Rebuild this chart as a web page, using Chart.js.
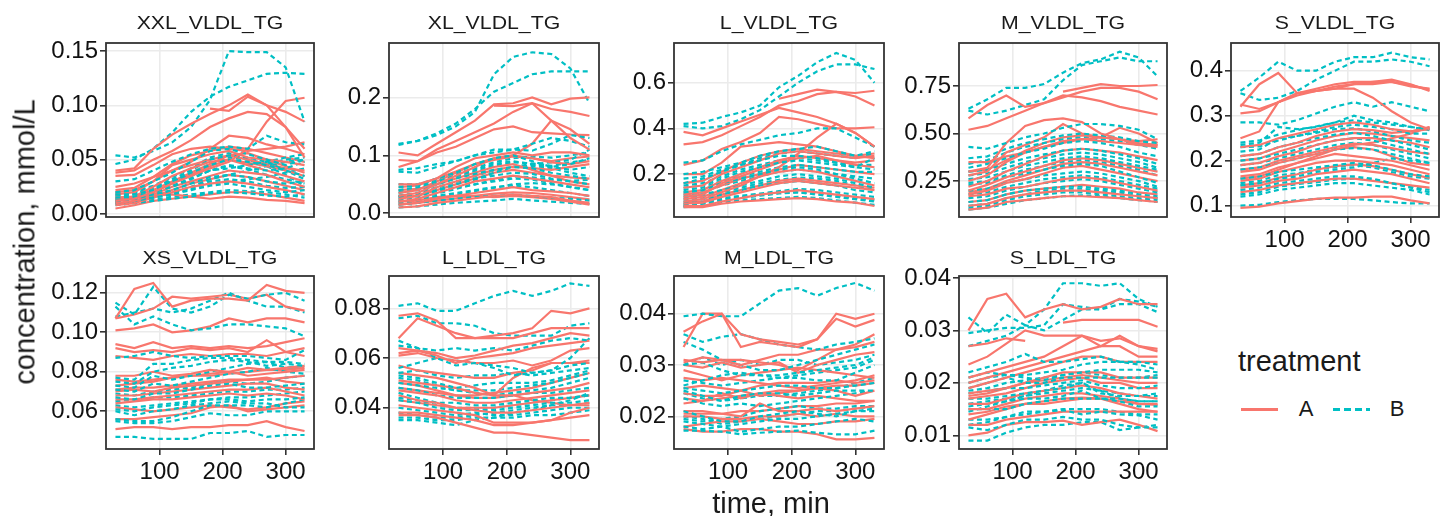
<!DOCTYPE html>
<html><head><meta charset="utf-8">
<script src="https://cdn.jsdelivr.net/npm/chart.js@4.4.0/dist/chart.umd.min.js"></script>
<style>
html,body{margin:0;padding:0;background:#fff;}
#wrap{position:relative;width:1449px;height:516px;overflow:hidden;font-family:"Liberation Sans",Arial,sans-serif;background:#fff;}
canvas{position:absolute;}
.t{position:absolute;white-space:nowrap;color:#1a1a1a;line-height:1;}
.c{transform:translate(-50%,-50%);}
</style></head><body><div id="wrap"></div>
<script>
const times=[30,60,90,120,150,180,210,240,270,300,330];
const panelNames=["XXL_VLDL_TG","XL_VLDL_TG","L_VLDL_TG","M_VLDL_TG","S_VLDL_TG","XS_VLDL_TG","L_LDL_TG","M_LDL_TG","S_LDL_TG"];
const xTickValues=[100,200,300];
const yLimits=[[-0.0028,0.1574],[-0.0064,0.2940],[0.012,0.774],[0.061,0.976],[0.0749,0.4616],[0.0409,0.1285],[0.0234,0.093],[0.01363,0.04735],[0.00739,0.04038]];
const yTickSteps=[0.05,0.1,0.2,0.25,0.1,0.02,0.02,0.01,0.01];
const yTickDecimals=[2,1,1,2,1,2,2,2,2];
const treatments=["A","B"];

const xxlA=[
[0.040,0.042,0.060,0.073,0.083,0.092,0.100,0.110,0.100,0.080,0.052],
[null,null,null,null,null,0.097,0.095,0.108,0.100,0.094,0.085],
[0.038,0.040,0.050,0.058,0.068,0.080,0.088,0.094,0.092,0.080,0.060],
[0.012,0.014,0.020,0.028,0.035,0.042,0.048,0.060,0.085,0.104,0.107],
[0.035,0.036,0.045,0.055,0.060,0.062,0.060,0.058,0.060,0.062,0.066],
[0.018,0.020,0.030,0.045,0.050,0.055,0.058,0.052,0.050,0.048,0.045],
[0.015,0.016,0.025,0.035,0.042,0.048,0.050,0.045,0.040,0.035,0.030],
[0.010,0.012,0.018,0.025,0.030,0.035,0.040,0.038,0.036,0.030,0.025],
[0.008,0.010,0.015,0.020,0.025,0.028,0.030,0.028,0.025,0.022,0.018],
[0.005,0.008,0.012,0.014,0.016,0.018,0.020,0.020,0.018,0.015,0.012],
[0.015,0.015,0.017,0.018,0.016,0.014,0.016,0.015,0.013,0.012,0.010],
[0.020,0.022,0.030,0.040,0.048,0.060,0.072,0.070,0.064,0.060,0.055],
[0.012,0.014,0.020,0.028,0.036,0.044,0.050,0.047,0.044,0.040,0.035],
[0.025,0.028,0.034,0.040,0.045,0.050,0.054,0.056,0.050,0.044,0.038],
[0.014,0.016,0.022,0.030,0.038,0.046,0.054,0.050,0.046,0.042,0.040],
[0.009,0.011,0.016,0.022,0.028,0.032,0.036,0.034,0.030,0.026,0.022],
[0.022,0.024,0.034,0.046,0.054,0.058,0.062,0.060,0.056,0.052,0.048]];
const xxlB=[
[0.054,0.052,0.058,0.066,0.080,0.105,0.150,0.149,0.149,0.135,0.085],
[0.046,0.050,0.060,0.075,0.094,0.108,0.117,0.123,0.129,0.130,0.129],
[0.030,0.032,0.040,0.048,0.055,0.060,0.062,0.060,0.072,0.066,0.064],
[0.020,0.022,0.030,0.038,0.048,0.058,0.060,0.055,0.050,0.045,0.050],
[0.018,0.018,0.022,0.030,0.038,0.045,0.050,0.048,0.045,0.040,0.035],
[0.015,0.016,0.020,0.025,0.032,0.040,0.045,0.042,0.040,0.042,0.048],
[0.012,0.014,0.018,0.022,0.028,0.034,0.036,0.034,0.030,0.028,0.030],
[0.010,0.012,0.015,0.018,0.022,0.026,0.028,0.025,0.022,0.020,0.022],
[0.008,0.010,0.012,0.014,0.016,0.019,0.020,0.019,0.017,0.016,0.018],
[0.018,0.020,0.025,0.030,0.035,0.040,0.042,0.045,0.048,0.052,0.055],
[0.014,0.015,0.018,0.020,0.024,0.030,0.032,0.030,0.026,0.024,0.025],
[0.010,0.011,0.013,0.016,0.018,0.020,0.022,0.021,0.020,0.018,0.015],
[0.016,0.018,0.024,0.032,0.040,0.050,0.054,0.052,0.048,0.040,0.032],
[0.012,0.013,0.016,0.020,0.025,0.032,0.036,0.040,0.044,0.048,0.050],
[0.013,0.015,0.020,0.026,0.033,0.040,0.044,0.041,0.036,0.032,0.028],
[0.017,0.019,0.024,0.030,0.038,0.046,0.052,0.050,0.046,0.050,0.052],
[0.011,0.012,0.015,0.019,0.023,0.028,0.030,0.032,0.034,0.038,0.042],
[0.020,0.021,0.026,0.034,0.042,0.052,0.056,0.050,0.044,0.036,0.026]];

const xlA=[
[0.105,0.100,0.120,0.140,0.160,0.188,0.190,0.200,0.188,0.198,0.200],
[0.092,0.090,0.110,0.125,0.140,0.155,0.175,0.190,0.160,0.130,0.110],
[null,null,null,null,null,0.186,0.185,0.190,0.180,0.175,0.168],
[0.080,0.090,0.105,0.115,0.130,0.145,0.150,0.140,0.138,0.136,0.135],
[0.050,0.050,0.060,0.080,0.095,0.100,0.105,0.100,0.105,0.105,0.100],
[0.030,0.035,0.050,0.065,0.080,0.095,0.100,0.120,0.160,0.145,0.120],
[0.035,0.040,0.055,0.070,0.085,0.092,0.098,0.095,0.088,0.085,0.090],
[0.025,0.030,0.045,0.055,0.065,0.075,0.080,0.078,0.075,0.080,0.085],
[0.020,0.025,0.035,0.045,0.055,0.060,0.065,0.060,0.055,0.050,0.045],
[0.015,0.018,0.025,0.030,0.035,0.040,0.045,0.040,0.038,0.035,0.030],
[0.010,0.012,0.018,0.022,0.026,0.030,0.032,0.030,0.028,0.022,0.018],
[0.020,0.022,0.028,0.030,0.030,0.028,0.030,0.028,0.025,0.020,0.015],
[0.040,0.042,0.050,0.060,0.070,0.080,0.085,0.075,0.065,0.055,0.050],
[0.028,0.030,0.040,0.050,0.060,0.070,0.075,0.070,0.065,0.062,0.060],
[0.015,0.018,0.022,0.026,0.030,0.034,0.036,0.035,0.032,0.028,0.024],
[0.045,0.048,0.060,0.072,0.085,0.095,0.100,0.095,0.090,0.095,0.098]];
const xlB=[
[0.120,0.125,0.135,0.150,0.175,0.240,0.270,0.278,0.275,0.250,0.190],
[0.118,0.125,0.138,0.155,0.180,0.210,0.225,0.240,0.245,0.245,0.245],
[0.075,0.078,0.085,0.090,0.100,0.110,0.110,0.108,0.120,0.135,0.130],
[0.072,0.070,0.080,0.090,0.100,0.105,0.110,0.120,0.130,0.125,0.115],
[0.050,0.050,0.060,0.070,0.085,0.095,0.100,0.090,0.080,0.085,0.095],
[0.040,0.045,0.055,0.065,0.075,0.085,0.090,0.085,0.080,0.075,0.080],
[0.035,0.040,0.050,0.060,0.068,0.075,0.080,0.078,0.070,0.065,0.060],
[0.030,0.035,0.045,0.055,0.060,0.065,0.070,0.068,0.060,0.055,0.050],
[0.025,0.030,0.038,0.045,0.050,0.055,0.060,0.058,0.052,0.045,0.040],
[0.020,0.025,0.030,0.035,0.040,0.045,0.048,0.045,0.040,0.035,0.030],
[0.015,0.018,0.022,0.025,0.028,0.030,0.032,0.030,0.027,0.025,0.022],
[0.010,0.012,0.015,0.018,0.020,0.022,0.025,0.022,0.020,0.018,0.016],
[0.028,0.030,0.040,0.050,0.058,0.070,0.080,0.085,0.088,0.092,0.110],
[0.045,0.048,0.058,0.068,0.078,0.088,0.095,0.098,0.096,0.100,0.105],
[0.030,0.034,0.044,0.054,0.064,0.074,0.080,0.082,0.078,0.070,0.064],
[0.022,0.026,0.034,0.042,0.050,0.058,0.064,0.062,0.058,0.056,0.058],
[0.038,0.042,0.052,0.062,0.072,0.082,0.088,0.086,0.082,0.088,0.092],
[0.018,0.020,0.026,0.032,0.038,0.044,0.050,0.052,0.050,0.046,0.040]];

const lA=[
[0.385,0.370,0.400,0.430,0.460,0.490,0.470,0.450,0.420,0.380,0.320],
[0.330,0.340,0.370,0.410,0.450,0.500,0.520,0.550,0.560,0.555,0.565],
[null,null,null,null,null,0.530,0.550,0.570,0.560,0.540,0.500],
[0.240,0.260,0.310,0.340,0.380,0.450,0.440,0.420,0.400,0.400,0.405],
[0.200,0.200,0.250,0.320,0.330,0.340,0.330,0.320,0.300,0.280,0.270],
[0.140,0.150,0.200,0.230,0.260,0.290,0.300,0.290,0.280,0.270,0.280],
[0.100,0.110,0.160,0.190,0.220,0.250,0.270,0.280,0.260,0.240,0.230],
[0.080,0.090,0.120,0.150,0.190,0.230,0.290,0.360,0.420,0.380,0.320],
[0.070,0.075,0.100,0.120,0.140,0.160,0.170,0.160,0.150,0.140,0.130],
[0.060,0.060,0.080,0.095,0.110,0.120,0.130,0.120,0.110,0.100,0.090],
[0.055,0.055,0.070,0.080,0.085,0.090,0.095,0.090,0.080,0.075,0.060],
[0.120,0.130,0.170,0.200,0.230,0.260,0.280,0.270,0.260,0.250,0.260],
[0.090,0.100,0.130,0.160,0.190,0.210,0.220,0.210,0.190,0.170,0.150],
[0.110,0.120,0.150,0.180,0.200,0.220,0.240,0.230,0.220,0.210,0.200],
[0.075,0.080,0.110,0.130,0.150,0.170,0.180,0.170,0.160,0.150,0.140],
[0.160,0.170,0.210,0.250,0.280,0.300,0.310,0.300,0.290,0.280,0.290]];
const lB=[
[0.420,0.425,0.450,0.470,0.500,0.580,0.630,0.690,0.730,0.700,0.600],
[0.410,0.400,0.410,0.440,0.480,0.540,0.600,0.650,0.680,0.680,0.660],
[0.250,0.260,0.300,0.330,0.350,0.370,0.380,0.400,0.400,0.360,0.320],
[0.200,0.210,0.230,0.250,0.280,0.300,0.310,0.320,0.300,0.280,0.300],
[0.160,0.180,0.210,0.240,0.260,0.280,0.280,0.270,0.250,0.230,0.220],
[0.140,0.150,0.180,0.210,0.230,0.250,0.260,0.250,0.240,0.230,0.270],
[0.120,0.130,0.160,0.180,0.200,0.220,0.230,0.220,0.200,0.180,0.160],
[0.100,0.110,0.130,0.150,0.170,0.190,0.200,0.190,0.180,0.160,0.140],
[0.080,0.090,0.110,0.130,0.150,0.160,0.170,0.160,0.150,0.130,0.120],
[0.060,0.070,0.090,0.100,0.110,0.120,0.120,0.110,0.100,0.090,0.080],
[0.055,0.060,0.075,0.085,0.090,0.095,0.100,0.095,0.085,0.075,0.065],
[0.180,0.190,0.220,0.240,0.270,0.290,0.300,0.290,0.280,0.270,0.290],
[0.130,0.140,0.170,0.190,0.210,0.230,0.240,0.230,0.220,0.210,0.210],
[0.070,0.075,0.095,0.105,0.115,0.125,0.135,0.130,0.120,0.110,0.100],
[0.150,0.160,0.190,0.220,0.240,0.260,0.270,0.260,0.250,0.240,0.240],
[0.110,0.120,0.150,0.170,0.190,0.210,0.220,0.210,0.200,0.190,0.180],
[0.090,0.100,0.120,0.140,0.160,0.175,0.185,0.180,0.170,0.150,0.130],
[0.065,0.070,0.085,0.095,0.105,0.115,0.120,0.115,0.105,0.095,0.085]];

const mA=[
[0.580,0.650,0.700,0.640,0.660,0.690,0.720,0.740,0.740,0.720,0.680],
[0.520,0.540,0.580,0.620,0.660,0.700,0.690,0.670,0.640,0.620,0.600],
[null,null,null,null,null,0.720,0.740,0.760,0.750,0.750,0.755],
[0.300,0.320,0.450,0.540,0.570,0.580,0.560,0.500,0.470,0.440,0.430],
[0.280,0.300,0.400,0.440,0.480,0.550,0.500,0.480,0.530,0.500,0.450],
[0.250,0.280,0.350,0.400,0.430,0.460,0.470,0.460,0.450,0.440,0.440],
[0.220,0.250,0.300,0.340,0.380,0.410,0.420,0.410,0.400,0.380,0.360],
[0.200,0.230,0.270,0.300,0.330,0.360,0.370,0.360,0.340,0.320,0.300],
[0.180,0.200,0.240,0.260,0.290,0.320,0.330,0.310,0.290,0.270,0.250],
[0.170,0.180,0.210,0.220,0.240,0.260,0.270,0.260,0.240,0.220,0.200],
[0.120,0.130,0.160,0.180,0.190,0.200,0.200,0.190,0.180,0.170,0.160],
[0.100,0.110,0.140,0.150,0.160,0.170,0.170,0.165,0.160,0.150,0.140],
[0.350,0.350,0.380,0.400,0.430,0.450,0.470,0.480,0.470,0.460,0.470],
[0.190,0.210,0.250,0.280,0.310,0.340,0.350,0.340,0.320,0.300,0.280],
[0.140,0.150,0.180,0.200,0.210,0.220,0.230,0.220,0.210,0.190,0.180],
[0.300,0.310,0.360,0.410,0.450,0.480,0.490,0.480,0.470,0.450,0.440]];
const mB=[
[0.630,0.680,0.740,0.740,0.760,0.820,0.870,0.890,0.930,0.900,0.800],
[0.620,0.600,0.620,0.650,0.680,0.780,0.860,0.880,0.900,0.880,0.880],
[0.430,0.420,0.450,0.480,0.500,0.530,0.550,0.550,0.540,0.520,0.470],
[0.370,0.380,0.420,0.450,0.470,0.490,0.500,0.490,0.480,0.460,0.450],
[0.320,0.340,0.370,0.400,0.420,0.450,0.460,0.450,0.430,0.400,0.380],
[0.300,0.310,0.340,0.370,0.390,0.410,0.420,0.410,0.390,0.370,0.340],
[0.260,0.270,0.300,0.330,0.350,0.370,0.380,0.370,0.350,0.330,0.310],
[0.230,0.240,0.270,0.290,0.310,0.330,0.340,0.330,0.300,0.270,0.240],
[0.200,0.210,0.240,0.260,0.280,0.290,0.300,0.290,0.270,0.250,0.220],
[0.160,0.170,0.200,0.220,0.240,0.250,0.260,0.250,0.230,0.210,0.190],
[0.140,0.150,0.180,0.200,0.210,0.220,0.220,0.210,0.200,0.180,0.170],
[0.110,0.120,0.150,0.170,0.180,0.190,0.190,0.180,0.170,0.160,0.150],
[0.100,0.110,0.130,0.150,0.160,0.170,0.175,0.170,0.160,0.150,0.140],
[0.340,0.360,0.400,0.430,0.450,0.470,0.480,0.470,0.460,0.440,0.420],
[0.280,0.290,0.320,0.350,0.370,0.390,0.400,0.390,0.370,0.350,0.320],
[0.180,0.190,0.220,0.240,0.260,0.270,0.280,0.270,0.250,0.230,0.210],
[0.120,0.130,0.160,0.180,0.200,0.210,0.210,0.200,0.190,0.170,0.160],
[0.240,0.250,0.280,0.310,0.330,0.350,0.360,0.350,0.330,0.310,0.280]];

const sA=[
[0.320,0.370,0.395,0.350,0.355,0.360,0.360,0.340,0.310,0.285,0.270],
[0.305,0.310,0.330,0.350,0.360,0.370,0.375,0.375,0.380,0.370,0.355],
[0.325,0.315,0.330,0.345,0.355,0.360,0.370,0.370,0.375,0.365,0.360],
[0.250,0.265,0.330,0.350,0.355,0.365,0.370,0.375,0.375,0.368,0.358],
[0.230,0.235,0.250,0.260,0.270,0.280,0.285,0.280,0.270,0.265,0.275],
[0.210,0.215,0.230,0.240,0.255,0.265,0.270,0.268,0.262,0.265,0.270],
[0.190,0.195,0.210,0.220,0.235,0.245,0.250,0.250,0.245,0.240,0.230],
[0.175,0.180,0.195,0.205,0.215,0.225,0.235,0.240,0.250,0.260,0.275],
[0.165,0.170,0.185,0.195,0.205,0.215,0.210,0.205,0.200,0.190,0.180],
[0.155,0.160,0.175,0.185,0.195,0.200,0.200,0.195,0.190,0.180,0.170],
[0.140,0.145,0.155,0.160,0.170,0.175,0.180,0.175,0.170,0.160,0.150],
[0.130,0.135,0.145,0.150,0.155,0.160,0.160,0.155,0.150,0.145,0.140],
[0.095,0.098,0.105,0.110,0.115,0.118,0.118,0.120,0.120,0.112,0.105],
[0.160,0.165,0.180,0.195,0.210,0.225,0.230,0.225,0.210,0.195,0.190],
[0.180,0.185,0.200,0.210,0.220,0.230,0.238,0.235,0.228,0.220,0.215],
[0.145,0.150,0.162,0.170,0.180,0.188,0.192,0.188,0.180,0.170,0.162],
[0.200,0.205,0.220,0.232,0.245,0.255,0.262,0.260,0.255,0.250,0.245]];
const sB=[
[0.355,0.385,0.420,0.400,0.400,0.420,0.430,0.430,0.440,0.430,0.425],
[0.350,0.335,0.340,0.355,0.380,0.400,0.420,0.420,0.425,0.420,0.410],
[0.285,0.285,0.280,0.290,0.305,0.320,0.330,0.320,0.330,0.320,0.310],
[0.235,0.240,0.275,0.270,0.275,0.285,0.300,0.290,0.285,0.275,0.270],
[0.220,0.225,0.250,0.255,0.265,0.275,0.280,0.275,0.270,0.260,0.260],
[0.210,0.215,0.230,0.240,0.250,0.258,0.262,0.255,0.245,0.235,0.225],
[0.200,0.205,0.215,0.225,0.235,0.245,0.250,0.245,0.235,0.225,0.215],
[0.180,0.185,0.195,0.205,0.215,0.225,0.228,0.225,0.215,0.205,0.195],
[0.160,0.165,0.175,0.180,0.185,0.190,0.195,0.190,0.180,0.170,0.165],
[0.145,0.150,0.160,0.165,0.175,0.180,0.185,0.195,0.205,0.200,0.195],
[0.135,0.140,0.150,0.155,0.160,0.165,0.165,0.160,0.150,0.140,0.130],
[0.120,0.125,0.135,0.140,0.145,0.150,0.150,0.145,0.140,0.135,0.125],
[0.100,0.102,0.108,0.112,0.115,0.115,0.115,0.112,0.108,0.105,0.105],
[0.230,0.232,0.245,0.255,0.262,0.270,0.272,0.265,0.255,0.245,0.240],
[0.190,0.195,0.205,0.215,0.225,0.235,0.240,0.235,0.225,0.215,0.205],
[0.150,0.155,0.168,0.172,0.180,0.185,0.190,0.185,0.175,0.165,0.160],
[0.240,0.245,0.258,0.268,0.276,0.285,0.290,0.285,0.280,0.275,0.268],
[0.125,0.130,0.142,0.148,0.152,0.158,0.160,0.158,0.150,0.142,0.135]];

const xsA=[
[0.107,0.122,0.125,0.113,0.116,0.117,0.117,0.116,0.124,0.121,0.120],
[0.107,0.109,0.112,0.118,0.117,0.118,0.119,0.117,0.119,0.113,0.111],
[0.101,0.102,0.104,0.100,0.101,0.103,0.107,0.105,0.107,0.107,0.105],
[0.094,0.092,0.095,0.092,0.093,0.092,0.093,0.092,0.093,0.095,0.097],
[0.092,0.090,0.091,0.090,0.092,0.091,0.092,0.090,0.096,0.090,0.088],
[0.088,0.087,0.086,0.088,0.089,0.088,0.089,0.089,0.088,0.090,0.092],
[0.078,0.078,0.080,0.078,0.079,0.081,0.080,0.082,0.081,0.082,0.083],
[0.073,0.074,0.075,0.077,0.078,0.079,0.080,0.078,0.079,0.080,0.081],
[0.070,0.071,0.070,0.072,0.073,0.074,0.075,0.076,0.076,0.077,0.078],
[0.068,0.068,0.069,0.070,0.071,0.072,0.073,0.074,0.074,0.072,0.071],
[0.066,0.066,0.067,0.068,0.069,0.070,0.071,0.071,0.072,0.070,0.068],
[0.064,0.065,0.066,0.066,0.067,0.068,0.069,0.068,0.069,0.068,0.066],
[0.062,0.061,0.060,0.061,0.062,0.063,0.062,0.061,0.062,0.064,0.065],
[0.056,0.056,0.057,0.058,0.059,0.062,0.063,0.060,0.061,0.062,0.063],
[0.051,0.052,0.052,0.051,0.052,0.052,0.053,0.053,0.055,0.052,0.050],
[0.076,0.075,0.076,0.077,0.078,0.078,0.079,0.080,0.081,0.081,0.082],
[0.071,0.072,0.072,0.073,0.074,0.075,0.076,0.076,0.077,0.075,0.074]];
const xsB=[
[0.115,0.109,0.123,0.112,0.110,0.113,0.119,0.117,0.119,0.120,0.116],
[0.113,0.104,0.108,0.104,0.101,0.102,0.104,0.104,0.103,0.102,0.098],
[0.108,0.110,0.112,0.110,0.112,0.116,0.120,0.116,0.113,0.113,0.110],
[0.087,0.088,0.090,0.088,0.087,0.088,0.088,0.088,0.087,0.086,0.091],
[0.077,0.076,0.084,0.084,0.086,0.087,0.087,0.086,0.085,0.085,0.084],
[0.075,0.074,0.080,0.082,0.083,0.085,0.086,0.085,0.083,0.084,0.083],
[0.073,0.072,0.078,0.076,0.078,0.080,0.082,0.084,0.085,0.082,0.083],
[0.071,0.070,0.074,0.073,0.075,0.077,0.079,0.080,0.082,0.080,0.079],
[0.067,0.066,0.069,0.069,0.071,0.073,0.074,0.072,0.072,0.073,0.074],
[0.061,0.060,0.062,0.063,0.064,0.066,0.066,0.065,0.066,0.066,0.067],
[0.060,0.058,0.060,0.061,0.063,0.064,0.065,0.064,0.064,0.062,0.062],
[0.056,0.055,0.055,0.057,0.060,0.063,0.063,0.063,0.062,0.064,0.066],
[0.055,0.054,0.054,0.055,0.057,0.059,0.058,0.058,0.060,0.060,0.060],
[0.047,0.047,0.046,0.046,0.046,0.049,0.049,0.050,0.047,0.048,0.048],
[0.065,0.066,0.067,0.067,0.068,0.069,0.070,0.070,0.071,0.071,0.072],
[0.069,0.068,0.070,0.071,0.072,0.074,0.075,0.074,0.075,0.077,0.078],
[0.063,0.062,0.063,0.064,0.065,0.066,0.067,0.067,0.068,0.069,0.070]];

const lldlA=[
[0.077,0.078,0.075,0.068,0.068,0.069,0.070,0.072,0.079,0.078,0.080],
[0.068,0.076,0.073,0.070,0.068,0.068,0.068,0.070,0.072,0.072,0.072],
[0.062,0.063,0.062,0.060,0.061,0.063,0.065,0.066,0.068,0.070,0.069],
[0.064,0.063,0.061,0.058,0.060,0.061,0.062,0.064,0.065,0.066,0.067],
[0.061,0.062,0.060,0.059,0.058,0.058,0.059,0.057,0.059,0.063,0.064],
[0.057,0.055,0.054,0.053,0.052,0.052,0.054,0.055,0.058,0.058,0.059],
[0.054,0.053,0.052,0.050,0.048,0.045,0.052,0.056,0.058,0.058,0.058],
[0.051,0.050,0.049,0.048,0.046,0.045,0.045,0.046,0.047,0.048,0.050],
[0.047,0.046,0.045,0.043,0.042,0.042,0.043,0.044,0.045,0.046,0.047],
[0.045,0.043,0.042,0.040,0.039,0.038,0.038,0.039,0.040,0.041,0.042],
[0.041,0.040,0.039,0.038,0.037,0.034,0.034,0.034,0.035,0.036,0.037],
[0.038,0.038,0.037,0.036,0.035,0.033,0.033,0.034,0.035,0.038,0.040],
[0.037,0.037,0.036,0.034,0.032,0.030,0.030,0.029,0.028,0.027,0.027],
[0.050,0.049,0.047,0.045,0.044,0.044,0.045,0.043,0.042,0.041,0.041],
[0.043,0.042,0.041,0.040,0.040,0.040,0.041,0.042,0.043,0.044,0.045],
[0.048,0.047,0.046,0.045,0.045,0.046,0.047,0.048,0.050,0.052,0.054]];
const lldlB=[
[0.081,0.082,0.079,0.079,0.082,0.085,0.087,0.085,0.087,0.090,0.089],
[0.076,0.077,0.074,0.074,0.073,0.070,0.069,0.069,0.069,0.073,0.074],
[0.067,0.064,0.063,0.064,0.063,0.064,0.063,0.065,0.067,0.068,0.067],
[0.065,0.064,0.060,0.057,0.058,0.057,0.056,0.054,0.055,0.060,0.068],
[0.056,0.058,0.060,0.059,0.058,0.056,0.053,0.054,0.055,0.057,0.058],
[0.054,0.055,0.053,0.052,0.053,0.053,0.054,0.053,0.054,0.055,0.056],
[0.053,0.052,0.050,0.048,0.049,0.050,0.050,0.050,0.051,0.053,0.055],
[0.050,0.049,0.048,0.047,0.046,0.045,0.046,0.047,0.048,0.050,0.052],
[0.048,0.047,0.045,0.044,0.044,0.044,0.045,0.046,0.046,0.047,0.048],
[0.046,0.044,0.042,0.042,0.041,0.041,0.042,0.043,0.044,0.044,0.045],
[0.043,0.042,0.040,0.039,0.039,0.039,0.040,0.041,0.042,0.042,0.043],
[0.040,0.039,0.038,0.037,0.038,0.037,0.037,0.038,0.039,0.040,0.040],
[0.036,0.036,0.035,0.035,0.036,0.036,0.036,0.037,0.037,0.038,0.039],
[0.035,0.035,0.034,0.033,0.035,0.036,0.038,0.039,0.041,0.043,0.046],
[0.052,0.051,0.049,0.047,0.047,0.047,0.048,0.049,0.050,0.052,0.054],
[0.044,0.043,0.041,0.040,0.040,0.040,0.041,0.042,0.043,0.044,0.045],
[0.038,0.037,0.036,0.036,0.037,0.038,0.039,0.040,0.041,0.041,0.042]];

const mldlA=[
[0.0365,0.0385,0.0400,0.0360,0.0350,0.0345,0.0340,0.0350,0.0400,0.0390,0.0400],
[0.0335,0.0400,0.0400,0.0335,0.0345,0.0340,0.0335,0.0350,0.0390,0.0375,0.0388],
[0.0310,0.0305,0.0310,0.0300,0.0310,0.0320,0.0320,0.0330,0.0330,0.0340,0.0360],
[0.0305,0.0315,0.0310,0.0310,0.0305,0.0300,0.0290,0.0310,0.0330,0.0335,0.0345],
[0.0300,0.0295,0.0305,0.0295,0.0300,0.0305,0.0285,0.0300,0.0310,0.0320,0.0325],
[0.0290,0.0280,0.0270,0.0280,0.0285,0.0290,0.0295,0.0290,0.0285,0.0280,0.0275],
[0.0255,0.0260,0.0255,0.0250,0.0260,0.0265,0.0265,0.0265,0.0270,0.0265,0.0270],
[0.0245,0.0240,0.0240,0.0250,0.0240,0.0245,0.0250,0.0255,0.0250,0.0240,0.0250],
[0.0225,0.0230,0.0245,0.0235,0.0245,0.0240,0.0235,0.0240,0.0235,0.0230,0.0230],
[0.0205,0.0205,0.0205,0.0200,0.0225,0.0210,0.0210,0.0215,0.0210,0.0215,0.0220],
[0.0200,0.0200,0.0195,0.0195,0.0200,0.0200,0.0205,0.0200,0.0205,0.0200,0.0200],
[0.0180,0.0185,0.0190,0.0190,0.0195,0.0190,0.0185,0.0185,0.0190,0.0190,0.0195],
[0.0175,0.0170,0.0170,0.0175,0.0175,0.0170,0.0170,0.0165,0.0155,0.0155,0.0158],
[0.0275,0.0270,0.0275,0.0270,0.0265,0.0260,0.0255,0.0260,0.0265,0.0270,0.0280],
[0.0235,0.0230,0.0235,0.0240,0.0245,0.0250,0.0250,0.0255,0.0260,0.0260,0.0265],
[0.0210,0.0210,0.0205,0.0210,0.0210,0.0215,0.0220,0.0220,0.0225,0.0225,0.0230]];
const mldlB=[
[0.0395,0.0400,0.0395,0.0395,0.0420,0.0445,0.0450,0.0435,0.0450,0.0460,0.0445],
[0.0360,0.0345,0.0355,0.0360,0.0350,0.0340,0.0335,0.0330,0.0340,0.0345,0.0352],
[0.0345,0.0330,0.0310,0.0300,0.0290,0.0290,0.0300,0.0310,0.0320,0.0330,0.0340],
[0.0300,0.0305,0.0290,0.0280,0.0280,0.0280,0.0285,0.0290,0.0295,0.0300,0.0315],
[0.0260,0.0270,0.0280,0.0285,0.0280,0.0275,0.0275,0.0270,0.0270,0.0285,0.0300],
[0.0255,0.0250,0.0245,0.0250,0.0255,0.0260,0.0260,0.0255,0.0255,0.0260,0.0265],
[0.0250,0.0240,0.0230,0.0240,0.0245,0.0245,0.0240,0.0245,0.0250,0.0250,0.0250],
[0.0235,0.0225,0.0220,0.0225,0.0220,0.0225,0.0230,0.0235,0.0240,0.0245,0.0250],
[0.0210,0.0200,0.0190,0.0190,0.0200,0.0205,0.0210,0.0205,0.0200,0.0210,0.0215],
[0.0190,0.0185,0.0180,0.0185,0.0190,0.0195,0.0195,0.0200,0.0205,0.0210,0.0210],
[0.0180,0.0175,0.0180,0.0170,0.0175,0.0180,0.0180,0.0185,0.0190,0.0195,0.0190],
[0.0172,0.0172,0.0170,0.0165,0.0168,0.0170,0.0172,0.0168,0.0165,0.0165,0.0172],
[0.0300,0.0315,0.0300,0.0310,0.0300,0.0310,0.0310,0.0300,0.0305,0.0310,0.0320],
[0.0195,0.0190,0.0195,0.0200,0.0210,0.0215,0.0220,0.0215,0.0215,0.0220,0.0220],
[0.0245,0.0235,0.0230,0.0235,0.0240,0.0240,0.0245,0.0250,0.0255,0.0265,0.0275],
[0.0200,0.0195,0.0185,0.0190,0.0195,0.0200,0.0205,0.0210,0.0210,0.0215,0.0220],
[0.0270,0.0265,0.0260,0.0265,0.0270,0.0275,0.0280,0.0285,0.0290,0.0295,0.0310]];

const sldlA=[
[0.0300,0.0360,0.0370,0.0325,0.0340,0.0350,0.0340,0.0345,0.0360,0.0350,0.0350],
[null,null,null,null,null,0.0315,0.0320,0.0320,0.0320,0.0320,0.0307],
[0.0270,0.0275,0.0285,0.0280,null,null,null,null,null,null,null],
[0.0235,0.0250,0.0275,0.0300,0.0290,0.0290,0.0290,0.0280,0.0285,0.0270,0.0265],
[0.0210,0.0220,0.0230,0.0240,0.0250,0.0270,0.0290,0.0270,0.0290,0.0270,0.0260],
[0.0200,0.0210,0.0220,0.0230,0.0240,0.0250,0.0260,0.0270,0.0270,0.0250,0.0250],
[0.0190,0.0200,0.0210,0.0220,0.0230,0.0240,0.0250,0.0250,0.0240,0.0240,0.0240],
[0.0180,0.0185,0.0190,0.0200,0.0210,0.0220,0.0220,0.0220,0.0210,0.0210,0.0210],
[0.0170,0.0175,0.0180,0.0190,0.0200,0.0205,0.0210,0.0200,0.0200,0.0190,0.0190],
[0.0160,0.0160,0.0170,0.0180,0.0185,0.0190,0.0195,0.0190,0.0180,0.0175,0.0170],
[0.0150,0.0150,0.0160,0.0170,0.0175,0.0180,0.0180,0.0175,0.0170,0.0160,0.0160],
[0.0130,0.0140,0.0150,0.0160,0.0160,0.0165,0.0170,0.0170,0.0160,0.0150,0.0145],
[0.0120,0.0120,0.0130,0.0135,0.0140,0.0145,0.0145,0.0145,0.0145,0.0145,0.0145],
[0.0100,0.0105,0.0120,0.0125,0.0125,0.0128,0.0120,0.0125,0.0130,0.0120,0.0108],
[0.0175,0.0180,0.0190,0.0200,0.0205,0.0210,0.0215,0.0210,0.0205,0.0200,0.0200],
[0.0140,0.0145,0.0155,0.0160,0.0165,0.0170,0.0172,0.0170,0.0165,0.0160,0.0158]];
const sldlB=[
[0.0325,0.0295,0.0330,0.0310,0.0340,0.0390,0.0390,0.0385,0.0390,0.0360,0.0345],
[0.0295,0.0300,0.0305,0.0305,0.0310,0.0350,0.0345,0.0340,0.0360,0.0355,0.0345],
[0.0270,0.0280,0.0290,0.0310,0.0300,0.0320,0.0340,0.0340,0.0350,0.0350,0.0335],
[0.0220,0.0230,0.0240,0.0255,0.0240,0.0240,0.0245,0.0250,0.0240,0.0235,0.0225],
[0.0210,0.0220,0.0215,0.0215,0.0220,0.0225,0.0235,0.0240,0.0240,0.0240,0.0235],
[0.0200,0.0210,0.0215,0.0210,0.0205,0.0215,0.0220,0.0225,0.0225,0.0225,0.0220],
[0.0190,0.0200,0.0210,0.0200,0.0200,0.0210,0.0210,0.0210,0.0210,0.0210,0.0210],
[0.0180,0.0185,0.0190,0.0190,0.0195,0.0200,0.0205,0.0195,0.0190,0.0190,0.0195],
[0.0170,0.0170,0.0175,0.0180,0.0185,0.0190,0.0200,0.0180,0.0175,0.0175,0.0180],
[0.0155,0.0160,0.0165,0.0170,0.0170,0.0175,0.0185,0.0170,0.0170,0.0165,0.0165],
[0.0150,0.0150,0.0150,0.0160,0.0165,0.0170,0.0170,0.0170,0.0165,0.0155,0.0155],
[0.0130,0.0130,0.0135,0.0145,0.0145,0.0148,0.0140,0.0145,0.0140,0.0138,0.0130],
[0.0115,0.0110,0.0120,0.0130,0.0130,0.0135,0.0130,0.0130,0.0120,0.0115,0.0115],
[0.0090,0.0090,0.0105,0.0115,0.0120,0.0120,0.0125,0.0125,0.0110,0.0115,0.0120],
[0.0145,0.0155,0.0165,0.0175,0.0185,0.0195,0.0200,0.0185,0.0170,0.0165,0.0165],
[0.0185,0.0190,0.0200,0.0205,0.0210,0.0215,0.0220,0.0215,0.0210,0.0210,0.0215],
[0.0160,0.0165,0.0170,0.0175,0.0180,0.0185,0.0190,0.0185,0.0180,0.0175,0.0175],
[0.0120,0.0125,0.0135,0.0140,0.0145,0.0150,0.0150,0.0150,0.0145,0.0140,0.0140]];

const seriesA=[xxlA,xlA,lA,mA,sA,xsA,lldlA,mldlA,sldlA];
const seriesB=[xxlB,xlB,lB,mB,sB,xsB,lldlB,mldlB,sldlB];

// layout (page pixels)
const colEdges=[[106,314],[389,599],[674,884],[959,1167],[1231,1439]];
const rowEdges=[[43,217],[276,449]];
const colorA="#F8766D", colorB="#00BFC4";
const FONT='"Liberation Sans", Arial, sans-serif';
const YW=95, PT=18, PR=18, PB=6, XH=50;

const wrap=document.getElementById('wrap');
function addText(txt,x,y,size,cls,extra){
  const d=document.createElement('div');
  d.className='t '+(cls||'');
  d.textContent=txt;
  d.style.left=x+'px'; d.style.top=y+'px'; d.style.fontSize=size+'px';
  if(extra) Object.assign(d.style,extra);
  wrap.appendChild(d); return d;
}

const panelBorder={id:'panelBorder',afterDatasetsDraw(ch){
  const a=ch.chartArea,ctx=ch.ctx;ctx.save();ctx.strokeStyle='#333333';ctx.lineWidth=1.8;
  ctx.strokeRect(a.left,a.top,a.right-a.left,a.bottom-a.top);ctx.restore();}};

panelNames.forEach((name,i)=>{
  const r=Math.floor(i/5), c=i%5;
  const labeled=(r===1)||(c===4);
  const [L,R]=colEdges[c], [T,B]=rowEdges[r];
  const w=YW+(R-L)+PR, h=PT+(B-T)+(labeled?XH:PB);
  const cv=document.createElement('canvas');
  cv.width=w; cv.height=h;
  cv.style.left=(L-YW)+'px'; cv.style.top=(T-PT)+'px';
  cv.style.width=w+'px'; cv.style.height=h+'px';
  wrap.appendChild(cv);
  const datasets=[];
  const nA=seriesA[i].length, nB=seriesB[i].length, n=Math.max(nA,nB);
  for(let k=0;k<n;k++){
    if(k<nA) datasets.push({label:'A',data:seriesA[i][k].map((v,j)=>({x:times[j],y:v})),borderColor:colorA,borderWidth:2.2,borderDash:[],pointRadius:0,fill:false,spanGaps:false});
    if(k<nB) datasets.push({label:'B',data:seriesB[i][k].map((v,j)=>({x:times[j],y:v})),borderColor:colorB,borderWidth:2.2,borderDash:[5,3.5],pointRadius:0,fill:false,spanGaps:false});
  }
  const dec=yTickDecimals[i];
  new Chart(cv,{type:'line',data:{datasets},
    options:{responsive:false,animation:false,devicePixelRatio:1,
      layout:{padding:{top:PT,right:PR,bottom:labeled?0:PB,left:0}},
      plugins:{legend:{display:false},tooltip:{enabled:false}},
      elements:{line:{tension:0}},
      scales:{
        x:{type:'linear',min:15,max:345,
          afterBuildTicks:(s)=>{s.ticks=xTickValues.map(v=>({value:v}));},
          ticks:{display:labeled,padding:3,color:'#111111',font:{family:FONT,size:24},maxRotation:0,autoSkip:false,callback:v=>String(v)},
          grid:{color:'#EBEBEB',lineWidth:1.6,drawTicks:labeled,tickLength:6,tickColor:'#333333',tickWidth:1.6},
          border:{display:false},
          afterFit:(s)=>{s.height=labeled?XH:0;s.paddingLeft=0;s.paddingRight=0;}},
        y:{type:'linear',min:yLimits[i][0],max:yLimits[i][1],
          ticks:{stepSize:yTickSteps[i],includeBounds:false,padding:2,color:'#111111',font:{family:FONT,size:24},callback:v=>Number(v).toFixed(dec)},
          grid:{color:'#EBEBEB',lineWidth:1.6,drawTicks:true,tickLength:6,tickColor:'#333333',tickWidth:1.6},
          border:{display:false},
          afterFit:(s)=>{s.width=YW;s.paddingTop=0;s.paddingBottom=0;}}
      }},
    plugins:[panelBorder]});
  // strip title
  const cx=(L+R)/2, cy=r===0?22:257;
  addText(name,cx,cy,19,'c',{transform:'translate(-50%,-50%) scaleX(1.12)'});
});

// axis titles
addText('time, min',771,503,29,'c');
addText('concentration, mmol/L',25,242,29,'c',{transform:'translate(-50%,-50%) rotate(-90deg)'});
// legend
addText('treatment',1238,347,29,'');
const keyA=document.createElement('div');
Object.assign(keyA.style,{position:'absolute',left:'1241px',top:'407.5px',width:'37px',height:'3px',background:colorA});
wrap.appendChild(keyA);
const keyB=document.createElement('div');
Object.assign(keyB.style,{position:'absolute',left:'1333px',top:'407.5px',width:'37px',height:'3px',background:'repeating-linear-gradient(90deg,'+colorB+' 0 7px,transparent 7px 11px)'});
wrap.appendChild(keyB);
addText(treatments[0],1306,409,22,'c');
addText(treatments[1],1397,409,22,'c');
</script></body></html>
